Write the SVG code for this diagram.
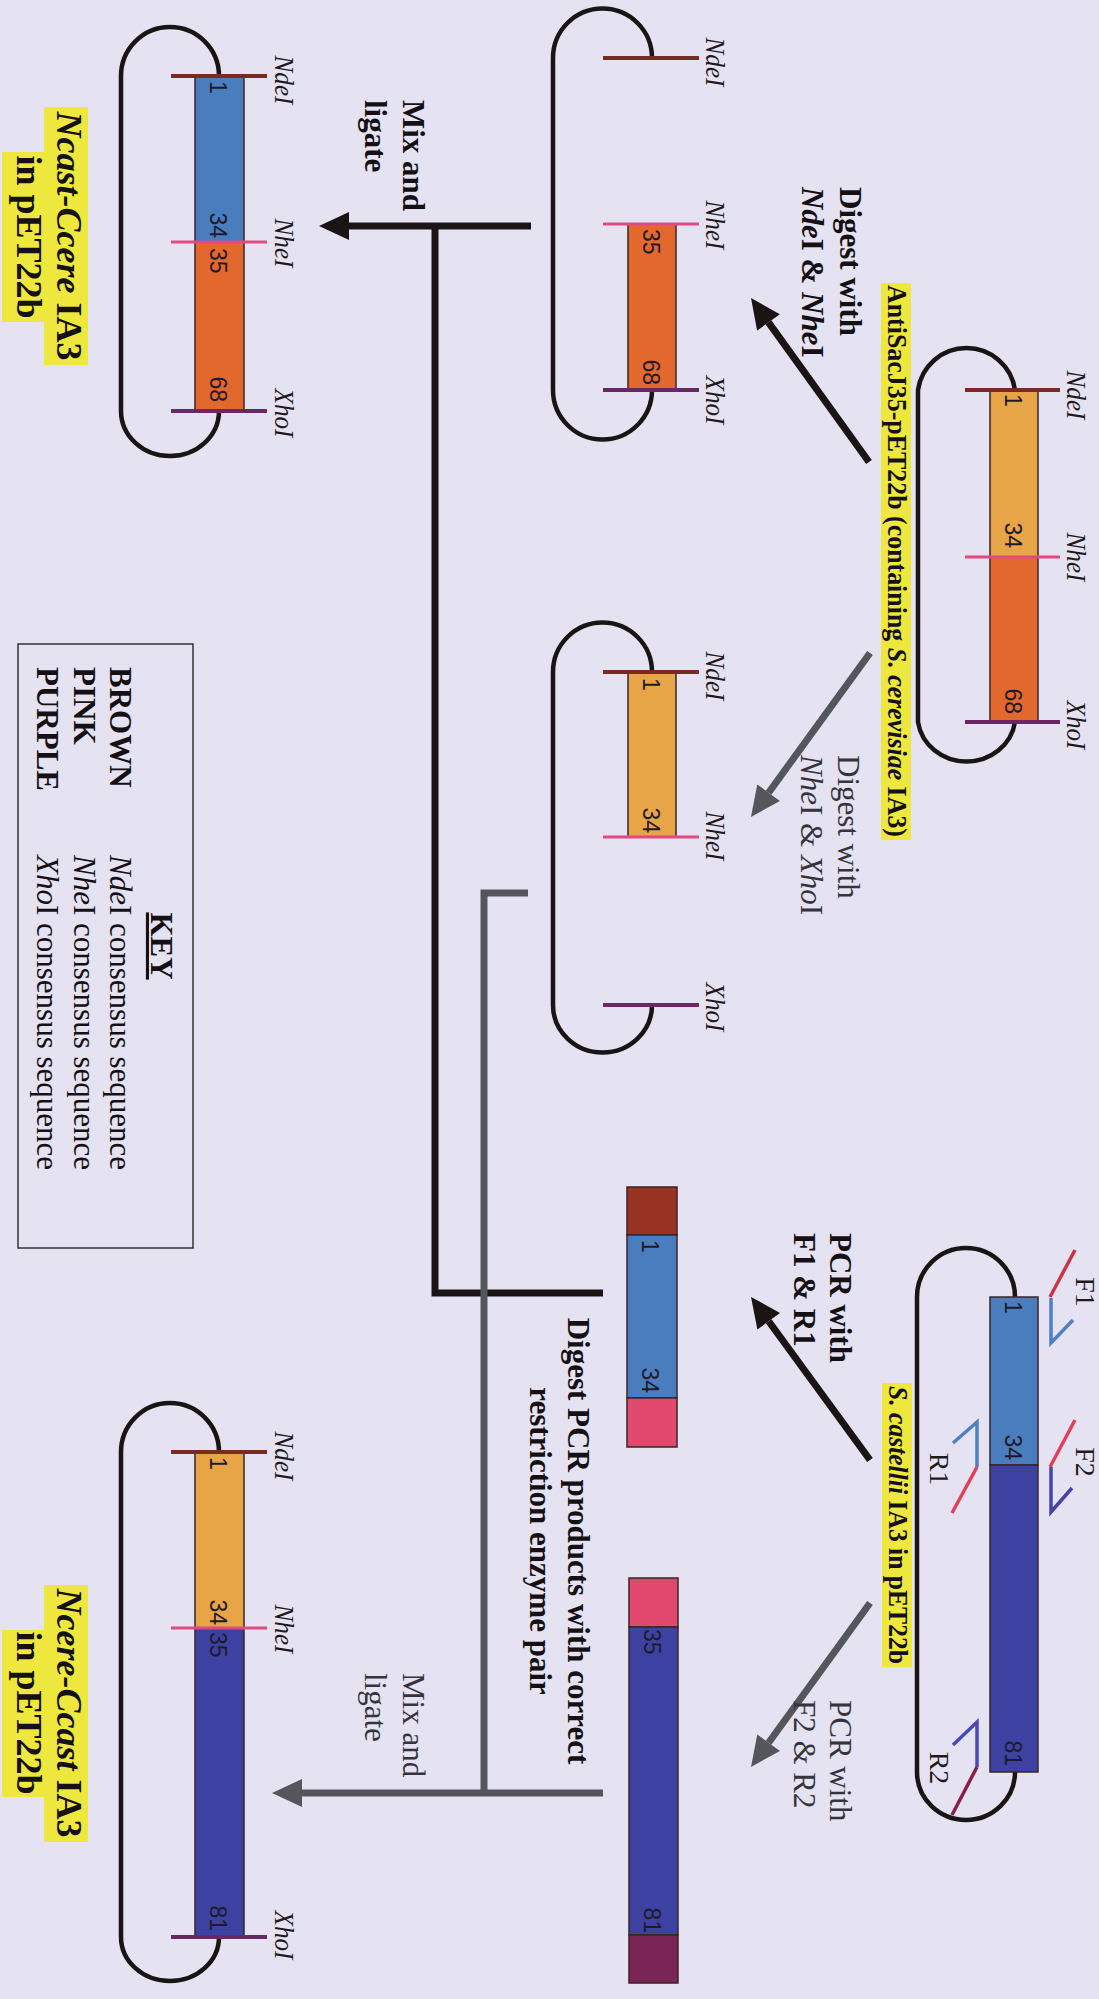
<svg xmlns="http://www.w3.org/2000/svg" width="1099" height="1999" viewBox="0 0 1099 1999">
<defs>
<style>
.bg{fill:#e5e2f2}
text{font-family:"Liberation Serif","Times New Roman",serif}
.site{font-size:27px;font-style:italic;fill:#1e1a1e;text-anchor:middle}
.num{font-family:"Liberation Sans",Arial,sans-serif;font-size:23px;fill:#1e1a2a}
.end{text-anchor:end}
.lbl{font-size:31px;font-weight:bold;fill:#141014}
.glbl{font-size:31px;fill:#34343c}
.title{font-size:36px;font-weight:bold;fill:#141014;text-anchor:middle}
.sub{font-size:27px;font-weight:bold;fill:#141014;text-anchor:middle}
.prim{font-size:28px;fill:#1e1a1e;text-anchor:middle}
.key{font-size:31px;fill:#141014}
.hl{fill:#eee83e}
.loop{fill:none;stroke:#1a1515;stroke-width:4.5}
.bar{stroke:#3a2428;stroke-width:1.5}
.lb{fill:#4a7dbd}.db{fill:#3d42a2}.or{fill:#e2682d}.lo{fill:#e8a547}.brn{fill:#983222}.pnk{fill:#e1486e}.pur{fill:#7a2556}
.sN{stroke:#7a2a24;stroke-width:4}.sH{stroke:#e04a80;stroke-width:3}.sX{stroke:#6a2862;stroke-width:4}
.blk{fill:none;stroke:#1a1414;stroke-width:7}
.gry{fill:none;stroke:#55555c;stroke-width:7}
.p{fill:none;stroke-width:3.5}
</style>
<marker id="hB" markerUnits="userSpaceOnUse" markerWidth="30" markerHeight="28" refX="0" refY="14" orient="auto" overflow="visible"><path d="M0,0 L30,14 L0,28 Z" fill="#1a1414"/></marker>
<marker id="hG" markerUnits="userSpaceOnUse" markerWidth="30" markerHeight="28" refX="0" refY="14" orient="auto" overflow="visible"><path d="M0,0 L30,14 L0,28 Z" fill="#55555c"/></marker>
</defs>
<rect class="bg" x="0" y="0" width="1099" height="1999"/>

<g id="connectors">
<path class="blk" d="M531,226 H349" marker-end="url(#hB)"/>
<path class="blk" d="M435,223 V1293 H603"/>
<path class="gry" d="M528,893 H484 V1793"/>
<path class="gry" d="M603,1793 H302" marker-end="url(#hG)"/>
<path class="blk" d="M869,462 L768.5,322.4" stroke-width="6" marker-end="url(#hB)"/>
<path class="gry" d="M870,653 L768.6,792.7" stroke-width="6" marker-end="url(#hG)"/>
<path class="blk" d="M870,1460 L768.7,1321.2" stroke-width="6" marker-end="url(#hB)"/>
<path class="gry" d="M870,1603 L768.6,1742.7" stroke-width="6" marker-end="url(#hG)"/>
</g>

<g id="step-labels">
<text class="lbl" transform="translate(403 100) rotate(90)">Mix and</text>
<text class="lbl" transform="translate(365 100) rotate(90)">ligate</text>
<text class="lbl" transform="translate(840 187) rotate(90)">Digest with</text>
<text class="lbl" transform="translate(802 187) rotate(90)"><tspan font-style="italic">Nde</tspan>I &amp; <tspan font-style="italic">Nhe</tspan>I</text>
<text class="glbl" transform="translate(838 755) rotate(90)">Digest with</text>
<text class="glbl" transform="translate(801 755) rotate(90)"><tspan font-style="italic">Nhe</tspan>I &amp; <tspan font-style="italic">Xho</tspan>I</text>
<text class="lbl" transform="translate(830 1233) rotate(90)">PCR with</text>
<text class="lbl" transform="translate(794 1233) rotate(90)">F1 &amp; R1</text>
<text class="glbl" transform="translate(830 1700) rotate(90)">PCR with</text>
<text class="glbl" transform="translate(794 1700) rotate(90)">F2 &amp; R2</text>
<text class="lbl" text-anchor="middle" transform="translate(568 1541) rotate(90)">Digest PCR products with correct</text>
<text class="lbl" text-anchor="middle" transform="translate(530 1541) rotate(90)">restriction enzyme pair</text>
<text class="glbl" transform="translate(403 1673) rotate(90)">Mix and</text>
<text class="glbl" transform="translate(365 1673) rotate(90)">ligate</text>
</g>

<g id="plasmid-antisac">
<rect class="hl" x="881" y="283" width="30" height="557"/>
<text class="sub" transform="translate(888 561) rotate(90)" textLength="552" lengthAdjust="spacingAndGlyphs">AntiSacJ35-pET22b (containing <tspan font-style="italic">S. cerevisiae</tspan> IA3)</text>
<path class="loop" d="M1015,390 A49,49 0 0 0 918,390 V722 A49,46 0 0 0 1015,722"/>
<rect class="bar lo" x="990" y="390" width="48" height="167"/>
<rect class="bar or" x="990" y="557" width="48" height="165"/>
<line class="sN" x1="965" y1="390" x2="1060" y2="390"/>
<line class="sH" x1="965" y1="557" x2="1060" y2="557"/>
<line class="sX" x1="965" y1="722" x2="1060" y2="722"/>
<text class="num" transform="translate(1005 394) rotate(90)">1</text>
<text class="num end" transform="translate(1005 548) rotate(90)">34</text>
<text class="num end" transform="translate(1005 714) rotate(90)">68</text>
<text class="site" transform="translate(1067 395) rotate(90)" textLength="49" lengthAdjust="spacingAndGlyphs">NdeI</text>
<text class="site" transform="translate(1067 557) rotate(90)" textLength="49" lengthAdjust="spacingAndGlyphs">NheI</text>
<text class="site" transform="translate(1067 725) rotate(90)" textLength="49" lengthAdjust="spacingAndGlyphs">XhoI</text>
</g>

<g id="vector-nde-nhe">
<path class="loop" d="M652,58 A49,49 0 0 0 553,58 V390 A49,49 0 0 0 652,390"/>
<rect class="bar or" x="628" y="224" width="48" height="166"/>
<line class="sN" x1="603" y1="58" x2="699" y2="58"/>
<line class="sH" x1="603" y1="224" x2="699" y2="224"/>
<line class="sX" x1="603" y1="390" x2="699" y2="390"/>
<text class="num" transform="translate(643 229) rotate(90)">35</text>
<text class="num end" transform="translate(643 385) rotate(90)">68</text>
<text class="site" transform="translate(706 62) rotate(90)" textLength="49" lengthAdjust="spacingAndGlyphs">NdeI</text>
<text class="site" transform="translate(706 225) rotate(90)" textLength="49" lengthAdjust="spacingAndGlyphs">NheI</text>
<text class="site" transform="translate(706 400) rotate(90)" textLength="49" lengthAdjust="spacingAndGlyphs">XhoI</text>
</g>

<g id="vector-nhe-xho">
<path class="loop" d="M652,672 A49,49 0 0 0 553,672 V1005 A49,47 0 0 0 652,1005"/>
<rect class="bar lo" x="628" y="672" width="48" height="165"/>
<line class="sN" x1="603" y1="672" x2="699" y2="672"/>
<line class="sH" x1="603" y1="837" x2="699" y2="837"/>
<line class="sX" x1="603" y1="1005" x2="699" y2="1005"/>
<text class="num" transform="translate(643 678) rotate(90)">1</text>
<text class="num end" transform="translate(643 833) rotate(90)">34</text>
<text class="site" transform="translate(706 676) rotate(90)" textLength="49" lengthAdjust="spacingAndGlyphs">NdeI</text>
<text class="site" transform="translate(706 836) rotate(90)" textLength="49" lengthAdjust="spacingAndGlyphs">NheI</text>
<text class="site" transform="translate(706 1007) rotate(90)" textLength="49" lengthAdjust="spacingAndGlyphs">XhoI</text>
</g>

<g id="plasmid-castellii">
<rect class="hl" x="882" y="1383" width="30" height="284"/>
<text class="sub" transform="translate(889 1525) rotate(90)" textLength="278" lengthAdjust="spacingAndGlyphs"><tspan font-style="italic">S. castellii</tspan> IA3 in pET22b</text>
<path class="loop" d="M1015,1297 A49,49 0 0 0 917,1297 V1772 A49,48 0 0 0 1015,1772"/>
<rect class="bar lb" x="990" y="1297" width="48" height="168"/>
<rect class="bar db" x="990" y="1465" width="48" height="307"/>
<text class="num" transform="translate(1005 1301) rotate(90)">1</text>
<text class="num end" transform="translate(1005 1460) rotate(90)">34</text>
<text class="num end" transform="translate(1005 1766) rotate(90)">81</text>
<polyline class="p" points="1075,1250 1050,1297" stroke="#c8344a"/>
<polyline class="p" points="1051,1298 1051,1343 1073,1320" stroke="#4f80c2"/>
<polyline class="p" points="1075,1420 1050,1467" stroke="#e0405a"/>
<polyline class="p" points="1051,1467 1051,1512 1072,1488" stroke="#4545a8"/>
<polyline class="p" points="953,1443 977,1422 977,1467" stroke="#4f80c2"/>
<polyline class="p" points="977,1467 952,1513" stroke="#e0405a"/>
<polyline class="p" points="953,1745 977,1722 977,1767" stroke="#4a4ab5"/>
<polyline class="p" points="977,1767 952,1815" stroke="#8a1f4a"/>
<text class="prim" transform="translate(1076 1292) rotate(90)">F1</text>
<text class="prim" transform="translate(1076 1462) rotate(90)">F2</text>
<text class="prim" transform="translate(930 1469) rotate(90)">R1</text>
<text class="prim" transform="translate(930 1768) rotate(90)">R2</text>
</g>

<g id="pcr-product-1">
<rect class="bar brn" x="627" y="1187" width="50" height="48"/>
<rect class="bar lb" x="627" y="1235" width="50" height="163"/>
<rect class="bar pnk" x="627" y="1398" width="50" height="49"/>
<text class="num" transform="translate(642 1240) rotate(90)">1</text>
<text class="num end" transform="translate(642 1393) rotate(90)">34</text>
</g>

<g id="pcr-product-2">
<rect class="bar pnk" x="629" y="1578" width="49" height="49"/>
<rect class="bar db" x="629" y="1627" width="49" height="308"/>
<rect class="bar pur" x="629" y="1935" width="49" height="48"/>
<text class="num" transform="translate(644 1629) rotate(90)">35</text>
<text class="num end" transform="translate(644 1933) rotate(90)">81</text>
</g>

<g id="plasmid-ncast-ccere">
<rect class="hl" x="44" y="107" width="44" height="258"/>
<rect class="hl" x="2" y="152" width="42" height="170"/>
<text class="title" transform="translate(57 236) rotate(90)"><tspan font-style="italic">Ncast-Ccere</tspan> IA3</text>
<text class="title" transform="translate(17 237) rotate(90)">in pET22b</text>
<path class="loop" d="M219,76 A49,49 0 0 0 121,76 V411 A49,45 0 0 0 219,411"/>
<rect class="bar lb" x="195" y="76" width="49" height="166"/>
<rect class="bar or" x="195" y="242" width="49" height="169"/>
<line class="sN" x1="171" y1="76" x2="267" y2="76"/>
<line class="sH" x1="171" y1="242" x2="267" y2="242"/>
<line class="sX" x1="171" y1="411" x2="267" y2="411"/>
<text class="num" transform="translate(210 81) rotate(90)">1</text>
<text class="num end" transform="translate(210 238) rotate(90)">34</text>
<text class="num" transform="translate(210 248) rotate(90)">35</text>
<text class="num end" transform="translate(210 402) rotate(90)">68</text>
<text class="site" transform="translate(275 80) rotate(90)" textLength="49" lengthAdjust="spacingAndGlyphs">NdeI</text>
<text class="site" transform="translate(275 243) rotate(90)" textLength="49" lengthAdjust="spacingAndGlyphs">NheI</text>
<text class="site" transform="translate(275 413) rotate(90)" textLength="49" lengthAdjust="spacingAndGlyphs">XhoI</text>
</g>

<g id="plasmid-ncere-ccast">
<rect class="hl" x="44" y="1585" width="44" height="257"/>
<rect class="hl" x="2" y="1630" width="42" height="167"/>
<text class="title" transform="translate(57 1713) rotate(90)"><tspan font-style="italic">Ncere-Ccast</tspan> IA3</text>
<text class="title" transform="translate(17 1713) rotate(90)">in pET22b</text>
<path class="loop" d="M219,1452 A49,49 0 0 0 121,1452 V1937 A49,44 0 0 0 219,1937"/>
<rect class="bar lo" x="195" y="1452" width="49" height="176"/>
<rect class="bar db" x="195" y="1628" width="49" height="309"/>
<line class="sN" x1="171" y1="1452" x2="267" y2="1452"/>
<line class="sH" x1="171" y1="1628" x2="267" y2="1628"/>
<line class="sX" x1="171" y1="1937" x2="267" y2="1937"/>
<text class="num" transform="translate(210 1457) rotate(90)">1</text>
<text class="num end" transform="translate(210 1625) rotate(90)">34</text>
<text class="num" transform="translate(210 1632) rotate(90)">35</text>
<text class="num end" transform="translate(210 1931) rotate(90)">81</text>
<text class="site" transform="translate(275 1456) rotate(90)" textLength="49" lengthAdjust="spacingAndGlyphs">NdeI</text>
<text class="site" transform="translate(275 1629) rotate(90)" textLength="49" lengthAdjust="spacingAndGlyphs">NheI</text>
<text class="site" transform="translate(275 1935) rotate(90)" textLength="49" lengthAdjust="spacingAndGlyphs">XhoI</text>
</g>

<g id="key">
<rect x="18" y="644" width="175" height="604" fill="none" stroke="#333" stroke-width="1.5"/>
<text class="key" font-weight="bold" text-anchor="middle" text-decoration="underline" transform="translate(151 946) rotate(90)">KEY</text>
<text class="key" font-weight="bold" fill="#8c2a1e" transform="translate(110 667) rotate(90)">BROWN</text>
<text class="key" font-weight="bold" fill="#d83a66" transform="translate(74 667) rotate(90)">PINK</text>
<text class="key" font-weight="bold" fill="#5c2254" transform="translate(37 667) rotate(90)">PURPLE</text>
<text class="key" transform="translate(110 855) rotate(90)"><tspan font-style="italic">Nde</tspan>I consensus sequence</text>
<text class="key" transform="translate(74 855) rotate(90)"><tspan font-style="italic">Nhe</tspan>I consensus sequence</text>
<text class="key" transform="translate(37 855) rotate(90)"><tspan font-style="italic">Xho</tspan>I consensus sequence</text>
</g>
</svg>
